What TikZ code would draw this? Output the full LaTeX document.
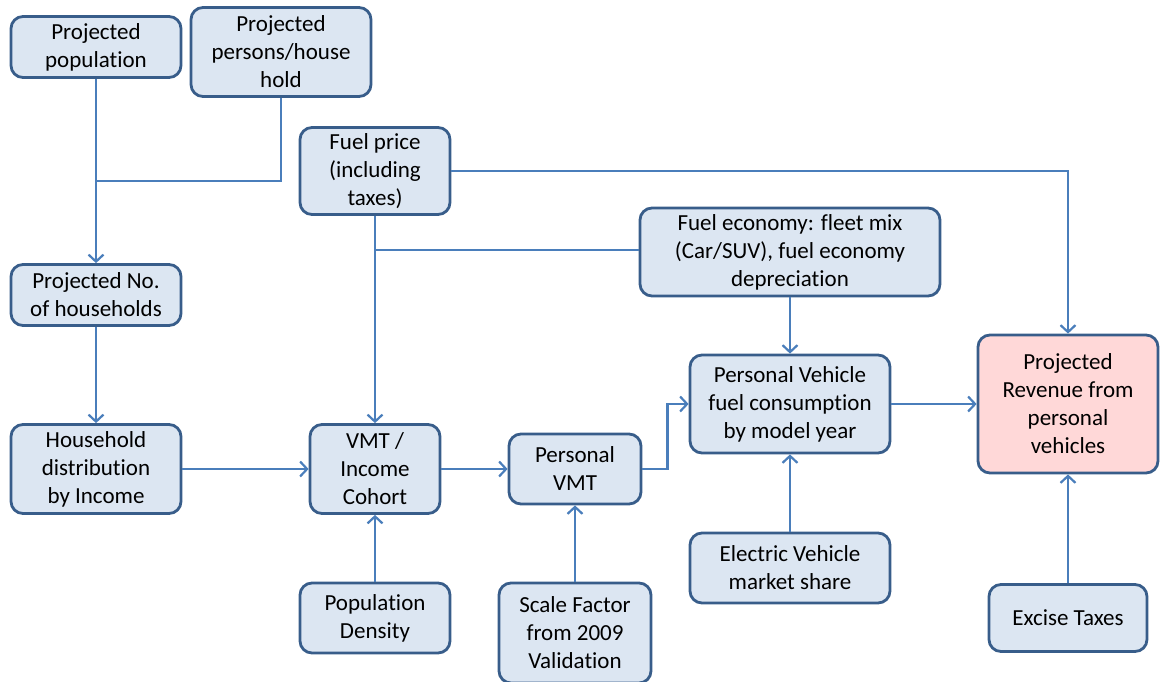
\documentclass[tikz,border=0pt]{standalone}
\usepackage{fontspec}
\setmainfont{Carlito}[Ligatures=NoCommon]
\usetikzlibrary{arrows.meta}
\definecolor{boxfill}{RGB}{220,230,242}
\definecolor{boxline}{RGB}{56,93,138}
\definecolor{connc}{RGB}{74,126,187}
\definecolor{pinkfill}{RGB}{255,216,216}
\begin{document}
\begin{tikzpicture}[x=1pt,y=-1pt,
 box/.style={draw=boxline, line width=2.8pt, fill=boxfill, rounded corners=12pt, align=center, inner sep=0pt, font=\fontsize{23}{28}\selectfont},
 conn/.style={draw=connc, line width=2.2pt},
 arr/.style={conn, -{Straight Barb[length=7pt,width=15pt,line width=2.2pt]}}]
\useasboundingbox (0,0) rectangle (1160,681);
\node[box, minimum width=170pt, minimum height=61pt] (pop) at (96,47) {Projected\\population};
\node[box, minimum width=180pt, minimum height=89pt] (pers) at (281,52) {Projected\\persons/house\\hold};
\node[box, minimum width=150pt, minimum height=87pt] (fuel) at (375,171) {Fuel price\\(including\\taxes)};
\node[box, minimum width=300pt, minimum height=88pt] (econ) at (790,252) {Fuel economy: fleet mix\\(Car/SUV), fuel economy\\depreciation};
\node[box, minimum width=170pt, minimum height=61pt] (hh) at (96,295) {Projected No.\\of households};
\node[box, minimum width=170pt, minimum height=89pt] (dist) at (96,469) {Household\\distribution\\by Income};
\node[box, minimum width=130pt, minimum height=89pt] (vmt) at (375,469) {VMT /\\Income\\Cohort};
\node[box, minimum width=132pt, minimum height=70pt] (pvmt) at (575,469) {Personal\\VMT};
\node[box, minimum width=200pt, minimum height=98pt] (cons) at (790,404) {Personal Vehicle\\fuel consumption\\by model year};
\node[box, fill=pinkfill, minimum width=180pt, minimum height=138pt] (rev) at (1068,404) {Projected\\Revenue from\\personal\\vehicles};
\node[box, minimum width=150pt, minimum height=70pt] (dens) at (375,618) {Population\\Density};
\node[box, minimum width=152pt, minimum height=100pt] (scale) at (575,633) {Scale Factor\\from 2009\\Validation};
\node[box, minimum width=200pt, minimum height=70pt] (ev) at (790,568) {Electric Vehicle\\market share};
\node[box, minimum width=158pt, minimum height=67pt] (excise) at (1068,618) {Excise Taxes};
\coordinate (j1) at (96,181);
\coordinate (j2) at (375,250);
\draw[conn] (pers.south) |- (j1);
\draw[arr] (pop.south) -- (hh.north);
\draw[arr] (hh.south) -- (dist.north);
\draw[conn] (econ.west |- j2) -- (j2);
\draw[arr] (fuel.south) -- (vmt.north);
\draw[arr] (fuel.east) -| (rev.north);
\draw[arr] (econ.south) -- (cons.north);
\draw[arr] (dens.north) -- (vmt.south);
\draw[arr] (dist.east) -- (vmt.west);
\draw[arr] (vmt.east) -- (pvmt.west);
\draw[arr] (pvmt.east) -- ++(25,0) |- (cons.west);
\draw[arr] (scale.north) -- (pvmt.south);
\draw[arr] (ev.north) -- (cons.south);
\draw[arr] (cons.east) -- (rev.west);
\draw[arr] (excise.north) -- (rev.south);
\end{tikzpicture}
\end{document}
